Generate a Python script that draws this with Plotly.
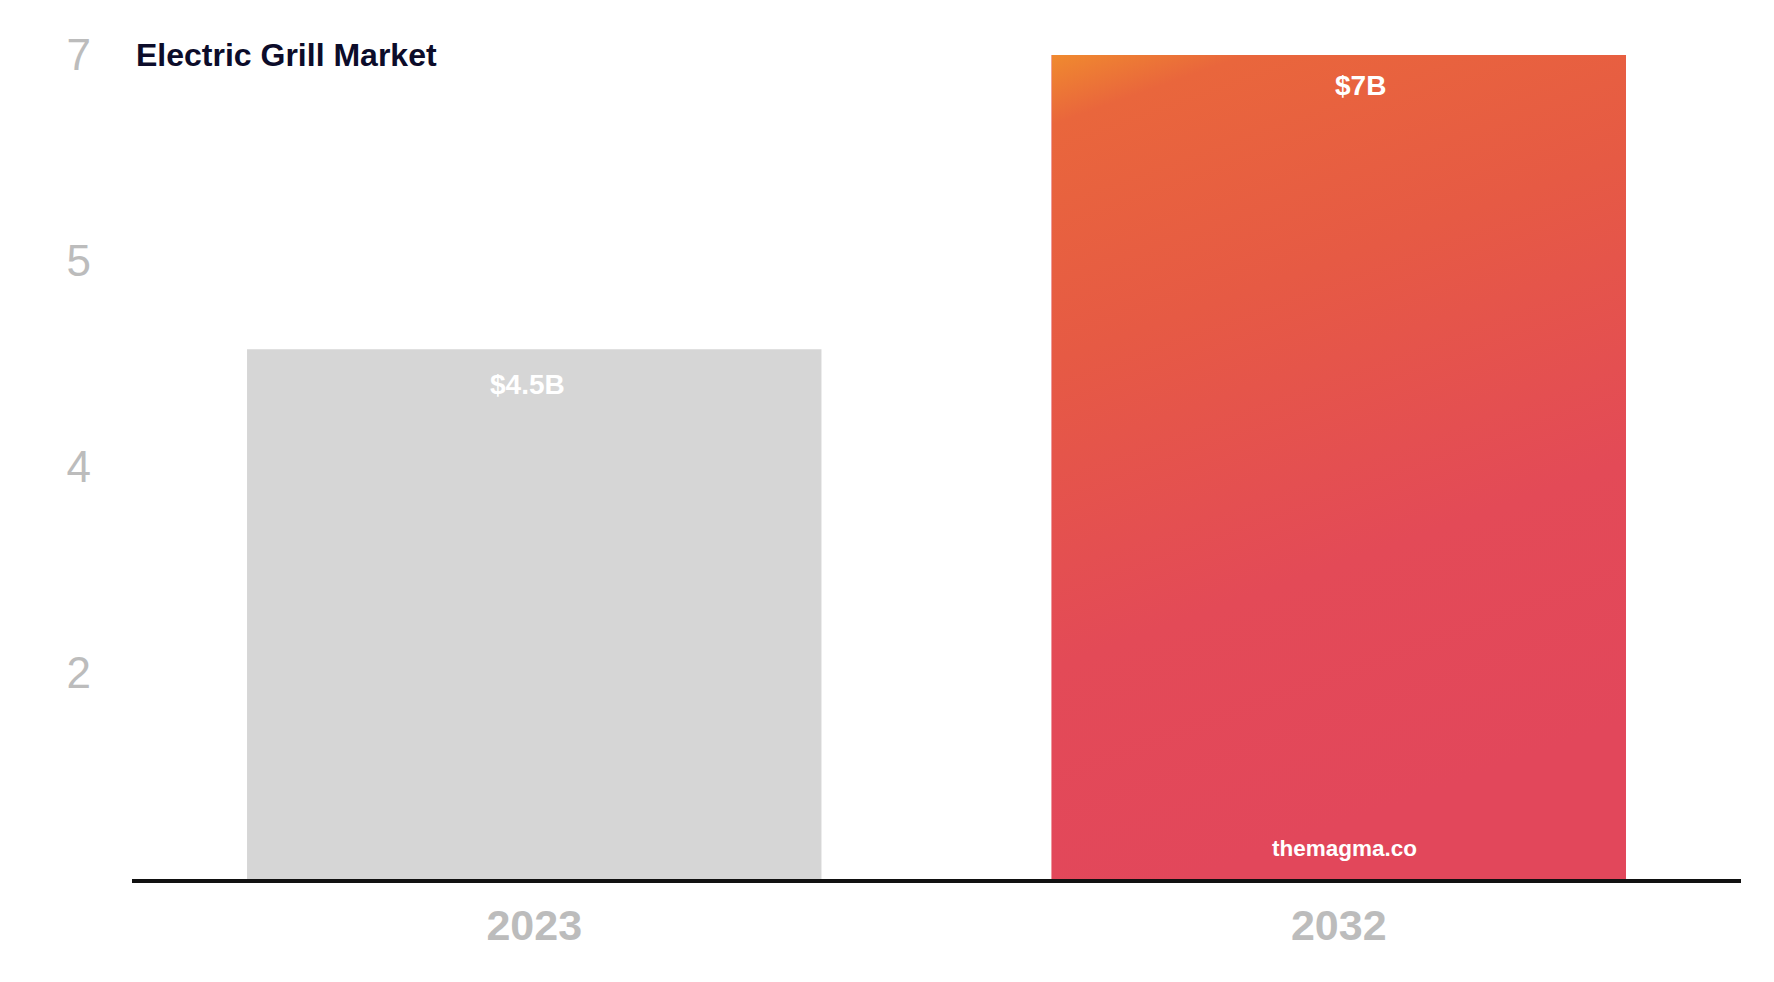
import base64
import plotly.graph_objects as go

# ---- data ----
categories = ["2023", "2032"]
values = [4.5, 7.0]
value_labels = ["$4.5B", "$7B"]
tick_values = [1.75, 3.5, 5.25, 7.0]
tick_labels = ["2", "4", "5", "7"]
title_text = "Electric Grill Market"
watermark = "themagma.co"

# ---- style ----
FONT = "Liberation Sans, Arial, Helvetica, sans-serif"
GREY_BAR = "#d6d6d6"
RED_BAR = "#e34a58"
TICK_GREY = "#bcbcbc"
BAR_W = 0.714

fig = go.Figure()
fig.add_trace(go.Bar(
    x=[0, 1], y=values, width=BAR_W,
    marker=dict(color=[GREY_BAR, RED_BAR], line=dict(width=0)),
    hoverinfo="skip", showlegend=False,
))

# gradient overlay for the 2032 bar (placed from data values)
svg = (
    '<svg xmlns="http://www.w3.org/2000/svg" width="100" height="100" '
    'viewBox="0 0 100 100" preserveAspectRatio="none">'
    '<defs><linearGradient id="g" x1="0" y1="0" x2="0.25" y2="1">'
    '<stop offset="0" stop-color="#f08a2f"/>'
    '<stop offset="0.08" stop-color="#e9663c"/>'
    '<stop offset="0.35" stop-color="#e65a44"/>'
    '<stop offset="0.7" stop-color="#e34a57"/>'
    '<stop offset="1" stop-color="#e2475b"/>'
    '</linearGradient></defs>'
    '<rect x="0" y="0" width="100" height="100" fill="url(#g)"/></svg>'
)
src = "data:image/svg+xml;base64," + base64.b64encode(svg.encode()).decode()
fig.add_layout_image(dict(
    source=src, xref="x", yref="y",
    x=1 - BAR_W / 2, y=values[1], sizex=BAR_W, sizey=values[1],
    xanchor="left", yanchor="top", sizing="stretch", layer="above",
))

# value labels
shifts = [(-7, -35), (22, -30)]
for i, (lab, v) in enumerate(zip(value_labels, values)):
    fig.add_annotation(
        x=i, y=v, xref="x", yref="y", text=f"<b>{lab}</b>", showarrow=False,
        xshift=shifts[i][0], yshift=shifts[i][1], yanchor="middle",
        font=dict(family=FONT, size=28, color="white"),
    )
fig.add_annotation(
    x=1, y=0, xref="x", yref="y", text=f"<b>{watermark}</b>", showarrow=False,
    xshift=6, yshift=31, yanchor="middle",
    font=dict(family=FONT, size=22.5, color="white"),
)
fig.add_annotation(
    x=0, y=1, xref="paper", yref="paper", text=f"<b>{title_text}</b>",
    showarrow=False, xanchor="left", yanchor="middle", xshift=2, yshift=0,
    font=dict(family=FONT, size=32, color="#0c0c2a"),
)

fig.update_layout(
    width=1774, height=982,
    margin=dict(l=124, r=41, t=47, b=111),
    paper_bgcolor="white", plot_bgcolor="white",
    showlegend=False,
    xaxis=dict(
        tickmode="array", tickvals=[0, 1], ticktext=[f"<b>{c}</b>" for c in categories],
        range=[-0.5, 1.5], showgrid=False, zeroline=False,
        showline=True, linecolor="#111111", linewidth=4,
        ticks="", tickfont=dict(family=FONT, size=43, color=TICK_GREY),
        ticklabelstandoff=5,
    ),
    yaxis=dict(
        range=[0, 7], tickmode="array", tickvals=tick_values, ticktext=tick_labels,
        showgrid=False, zeroline=False, showline=False, ticks="",
        tickfont=dict(family=FONT, size=44, color=TICK_GREY),
        ticklabelstandoff=40,
    ),
)

fig.write_html("out.html")
